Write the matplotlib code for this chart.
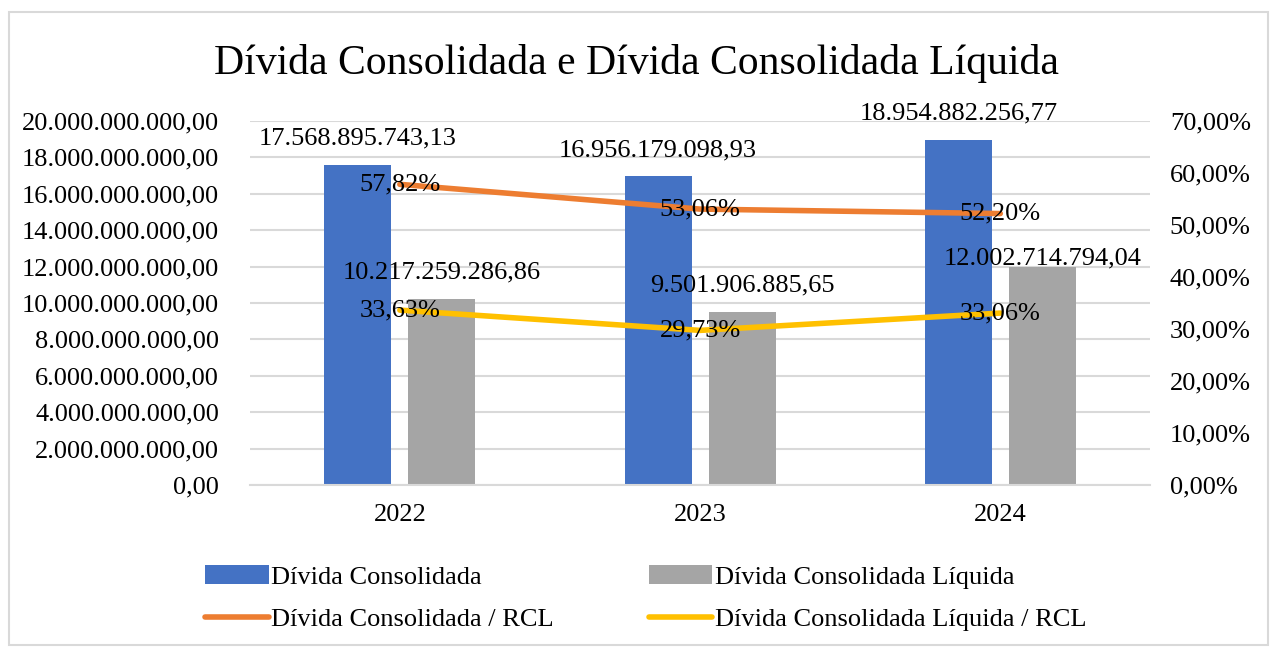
import matplotlib.pyplot as plt
import numpy as np
from matplotlib.patches import Rectangle
from matplotlib.ticker import FuncFormatter

plt.rcParams['font.family'] = ['Liberation Serif', 'DejaVu Serif']

years = ['2022', '2023', '2024']
divida_consolidada = [17568895743.13, 16956179098.93, 18954882256.77]
divida_liquida = [10217259286.86, 9501906885.65, 12002714794.04]
dc_rcl = [57.82, 53.06, 52.20]
dcl_rcl = [33.63, 29.73, 33.06]

# label offsets (points) above bars, as in the original
dc_offsets = [19, 19, 19]
dcl_offsets = [19, 19, 6]


def br(v, dec=2):
    s = f"{v:,.{dec}f}"
    return s.replace(',', 'X').replace('.', ',').replace('X', '.')


blue = '#4472C4'
gray = '#A5A5A5'
orange = '#ED7D31'
yellow = '#FFC000'
fs = 19

fig = plt.figure(figsize=(12.74, 6.53), dpi=100)
ax = fig.add_axes([0.196, 0.2573, 0.707, 0.5574])
ax2 = ax.twinx()

x = np.arange(len(years))
w = 0.223
b1 = ax.bar(x - 0.14, divida_consolidada, w, color=blue, zorder=2, label='Dívida Consolidada')
b2 = ax.bar(x + 0.14, divida_liquida, w, color=gray, zorder=2, label='Dívida Consolidada Líquida')

for xi, v, off in zip(x - 0.14, divida_consolidada, dc_offsets):
    ax.annotate(br(v), (xi, v), xytext=(0, off), textcoords='offset points',
                ha='center', va='center', fontsize=fs)
for xi, v, off in zip(x + 0.14, divida_liquida, dcl_offsets):
    ax.annotate(br(v), (xi, v), xytext=(0, off), textcoords='offset points',
                ha='center', va='center', fontsize=fs)

l1, = ax2.plot(x, dc_rcl, color=orange, lw=4, solid_capstyle='round', label='Dívida Consolidada / RCL')
l2, = ax2.plot(x, dcl_rcl, color=yellow, lw=4, solid_capstyle='round', label='Dívida Consolidada Líquida / RCL')
for xi, v in zip(x, dc_rcl):
    ax2.text(xi, v, br(v) + '%', ha='center', va='center', fontsize=fs, zorder=5)
for xi, v in zip(x, dcl_rcl):
    ax2.text(xi, v, br(v) + '%', ha='center', va='center', fontsize=fs, zorder=5)

ax.set_xlim(-0.5, 2.5)
ax.set_ylim(0, 20e9)
ax.set_yticks(np.arange(0, 20e9 + 1, 2e9))
ax.yaxis.set_major_formatter(FuncFormatter(lambda v, p: br(v)))
ax2.set_ylim(0, 70)
ax2.set_yticks(np.arange(0, 71, 10))
ax2.yaxis.set_major_formatter(FuncFormatter(lambda v, p: br(v) + '%'))
ax.set_xticks(x)
ax.set_xticklabels(years)

ax.grid(axis='y', color='#D9D9D9', lw=1.5, zorder=0)
ax.set_axisbelow(True)
for a in (ax, ax2):
    for s in a.spines.values():
        s.set_visible(False)
    a.tick_params(length=0, labelsize=fs)
ax.spines['bottom'].set_visible(True)
ax.spines['bottom'].set_color('#D9D9D9')
ax.spines['bottom'].set_linewidth(1.5)
ax.tick_params(axis='y', pad=22)
ax.tick_params(axis='x', pad=14)
ax2.tick_params(axis='y', pad=14)

fig.text(0.5, 0.903, 'Dívida Consolidada e Dívida Consolidada Líquida',
         ha='center', va='center', fontsize=30)

fig.legend([b1, l1, b2, l2],
           ['Dívida Consolidada', 'Dívida Consolidada / RCL',
            'Dívida Consolidada Líquida', 'Dívida Consolidada Líquida / RCL'],
           ncol=2, loc='center', bbox_to_anchor=(0.507, 0.084), frameon=False,
           fontsize=fs, handlelength=2.4, handleheight=0.7, handletextpad=0.1,
           labelspacing=0.72, columnspacing=3.6)

fig.add_artist(Rectangle((0.007, 0.012), 0.988, 0.97, transform=fig.transFigure,
                         fill=False, edgecolor='#D9D9D9', lw=1.5))

fig.savefig('out.png', dpi=100)
